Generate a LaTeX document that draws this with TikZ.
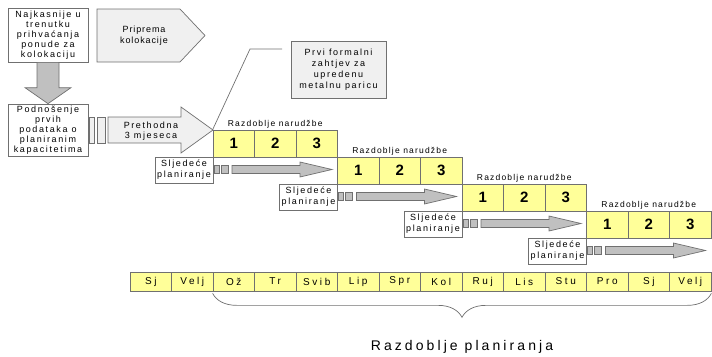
\documentclass[tikz,border=0pt]{standalone}
\usepackage{fontspec}
\setmainfont{Liberation Sans}
\newfontfamily\boxfont[LetterSpace=18]{Liberation Sans}
\newfontfamily\pripfont[LetterSpace=10]{Liberation Sans}
\newfontfamily\labfont[LetterSpace=14]{Liberation Sans}
\newfontfamily\monthfont[LetterSpace=26]{Liberation Sans}
\newfontfamily\titlefont[LetterSpace=22]{Liberation Sans}
\usetikzlibrary{decorations.pathreplacing}
\definecolor{cellyellow}{HTML}{FFFF99}
\definecolor{linegray}{HTML}{707070}
\definecolor{arrowgray}{HTML}{C0C0C0}
\definecolor{palegray}{HTML}{F0F0F0}
\begin{document}
\begin{tikzpicture}[x=1pt, y=-1pt, line width=0.7pt,
    box/.style = {draw=linegray, fill=white, align=center, inner sep=0pt, font=\boxfont\fontsize{9}{10}\selectfont},
    cell/.style = {draw=linegray, fill=cellyellow, minimum width=41.5pt, minimum height=27pt, inner sep=0pt, font=\bfseries\fontsize{15}{15}\selectfont},
    month/.style = {draw=linegray, fill=cellyellow, minimum width=41.5pt, minimum height=19pt, inner sep=0pt, font=\monthfont\fontsize{10}{10}\selectfont},
    pale/.style = {draw=linegray, fill=palegray},
    grayarrow/.style = {draw=linegray, fill=arrowgray}]
  \useasboundingbox (0,0) rectangle (712,356);

  % left column
  \node[box, minimum width=80pt, minimum height=54pt] (najk) at (48,35) {Najkasnije u\\trenutku\\prihvaćanja\\ponude za\\kolokaciju};
  \node[box, minimum width=80pt, minimum height=52pt] (podn) at (48,130) {Podnošenje\\prvih\\podataka o\\planiranim\\kapacitetima};
  \draw[grayarrow] ([xshift=-11pt]najk.south) -- ([xshift=11pt]najk.south)
    -- ([xshift=11pt, yshift=16pt]podn.north) -- ([xshift=23pt, yshift=16pt]podn.north)
    -- (podn.north) -- ([xshift=-23pt, yshift=16pt]podn.north)
    -- ([xshift=-11pt, yshift=16pt]podn.north) -- cycle;

  % Priprema kolokacije
  \draw[pale] (97,9) -- (180,9) -- (205,35.5) -- (180,62) -- (97,62) -- cycle;
  \node[align=center, font=\pripfont\fontsize{9}{11}\selectfont] (prip) at (144,36) {Priprema\\kolokacije};

  % Prethodna 3 mjeseca
  \draw[pale] (89,117) rectangle (94,143);
  \draw[pale] (97,117) rectangle (105,143);
  \draw[pale] (108,117) -- (181,117) -- (181,107) -- (213,130) -- (181,153) -- (181,143) -- (108,143) -- cycle;
  \node[align=center, font=\boxfont\fontsize{9}{10}\selectfont] (preth) at (151,131) {Prethodna\\3 mjeseca};

  % order periods
  \foreach \k in {0,...,3} {
    \pgfmathsetmacro\gx{213+124.5*\k}
    \pgfmathsetmacro\gy{130+27*\k}
    \foreach \j in {1,2,3}
      \node[cell] (c\k\j) at (\gx+41.5*\j-20.75, \gy+13.5) {\j};
    \node[anchor=south, inner sep=1.5pt, font=\labfont\fontsize{8.5}{8.5}\selectfont] (lab\k) at (c\k2.north) {Razdoblje narudžbe};
    \node[box, minimum width=58pt, minimum height=26pt, font=\boxfont\fontsize{9}{11}\selectfont] (sl\k) at (\gx-29, \gy+40) {Sljedeće\\planiranje};
    \draw[grayarrow] (\gx+1, \gy+35.5) rectangle +(5,8);
    \draw[grayarrow] (\gx+8, \gy+35.5) rectangle +(7,8);
    \draw[grayarrow] (\gx+19, \gy+35.5) -- (\gx+87, \gy+35.5) -- (\gx+87, \gy+32)
      -- (\gx+119, \gy+39.5) -- (\gx+87, \gy+47) -- (\gx+87, \gy+43.5) -- (\gx+19, \gy+43.5) -- cycle;
  }

  % callout
  \node[box, fill=palegray, minimum width=95pt, minimum height=57pt, font=\boxfont\fontsize{9}{11}\selectfont] (prvi) at (338.5,69.5) {Prvi formalni\\zahtjev za\\upredenu\\metalnu paricu};
  \coordinate (bend) at (250,49);
  \coordinate (ce) at (282,49);
  \draw[linegray] (c01.north west) -- (bend) -- (ce);

  % months
  \foreach \m [count=\i from 0] in {Sj,Velj,Ož,Tr,Svib,Lip,Spr,Kol,Ruj,Lis,Stu,Pro,Sj,Velj}
    \node[month] (m\i) at (150.75+41.5*\i, 281.5) {\m};
  \draw[linegray, decorate, decoration={brace, mirror, amplitude=24pt}] ([yshift=-2pt]m2.south west) -- ([yshift=-2pt]m13.south east);
  \node[font=\titlefont\fontsize{14}{14}\selectfont] (rp) at (462,347) {Razdoblje planiranja};
\end{tikzpicture}
\end{document}
